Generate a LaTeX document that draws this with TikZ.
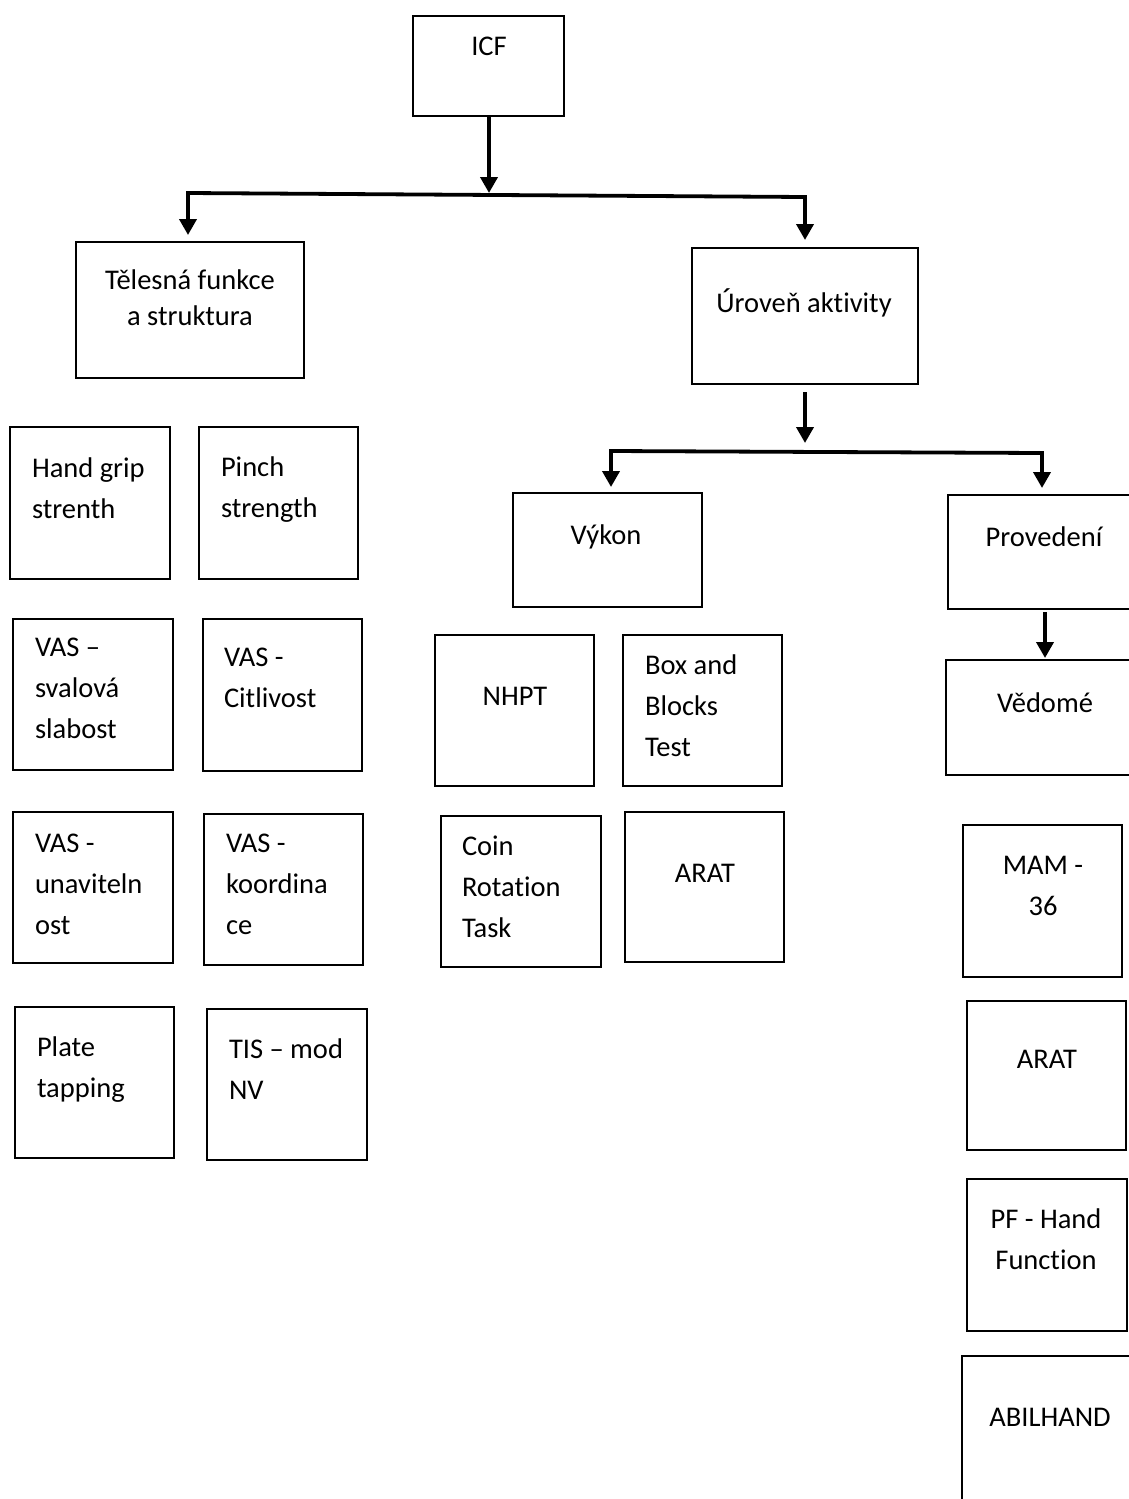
\documentclass[tikz,border=0pt]{standalone}
\usepackage{fontspec}
\setmainfont{Carlito}[Ligatures={NoCommon,NoRequired,NoContextual}]
\usetikzlibrary{arrows.meta}
\newcommand\LT[1]{\vtop{\halign{##\hfil\cr#1\crcr}}}
\newcommand\CT[1]{\vtop{\halign{\hfil##\hfil\cr#1\crcr}}}
\newcommand\bx[5]{\node[box, minimum width={(#4-#2)*1pt}, minimum height={(#5-#3)*1pt}] (#1) at ({(#2+#4)/2},{(#3+#5)/2}) {};}
\tikzset{
  box/.style={draw=black, line width=2pt, inner sep=0pt, outer sep=0pt, fill=white},
  txt/.style={inner sep=0pt, outer sep=0pt, font=\fontsize{28.5}{41}\selectfont},
  txtsingle/.style={txt, font=\fontsize{28.5}{36}\selectfont},
  conn/.style={line width=3.8pt, line join=miter, draw=black},
  tipc/.tip={Triangle[width=17pt,length=16pt]}
}
\begin{document}
\begin{tikzpicture}[x=1pt,y=-1pt]
\fill[white] (0,0) rectangle (1129,1499);
\useasboundingbox (0,0) rectangle (1129,1499);
\clip (0,0) rectangle (1129,1499);
% boxes
\bx{icf}{413}{16}{564}{116}
\bx{tel}{76}{242}{304}{378}
\bx{uro}{692}{248}{918}{384}
\bx{vyk}{513}{493}{702}{607}
\bx{pro}{948}{495}{1140}{609}
\bx{ved}{946}{660}{1144}{775}
\bx{hand}{10}{427}{170}{579}
\bx{pinch}{199}{427}{358}{579}
\bx{vassv}{13}{619}{173}{770}
\bx{vascit}{203}{619}{362}{771}
\bx{vasuna}{13}{812}{173}{963}
\bx{vaskoo}{204}{814}{363}{965}
\bx{plate}{15}{1007}{174}{1158}
\bx{tis}{207}{1009}{367}{1160}
\bx{nhpt}{435}{635}{594}{786}
\bx{bbt}{623}{635}{782}{786}
\bx{coin}{441}{816}{601}{967}
\bx{arata}{625}{812}{784}{962}
\bx{mam}{963}{825}{1122}{977}
\bx{aratb}{967}{1001}{1126}{1150}
\bx{pf}{967}{1179}{1127}{1331}
\bx{abil}{962}{1356}{1138}{1510}
% texts
\node[txt, anchor=base] (t-icf) at (489,55) {ICF};
\node[txtsingle, anchor=base] (t-tel) at (190,289) {\CT{Tělesná funkce\cr a struktura}};
\node[txt, anchor=base] (t-uro) at (804,312) {Úroveň aktivity};
\node[txt, anchor=base] (t-vyk) at (606,544) {Výkon};
\node[txt, anchor=base] (t-pro) at (1044,546) {Provedení};
\node[txt, anchor=base] (t-ved) at (1045,712) {Vědomé};
\node[txt, anchor=base west] (t-hand) at (32,477) {\LT{Hand grip\cr strenth}};
\node[txt, anchor=base west] (t-pinch) at (221,476) {\LT{Pinch\cr strength}};
\node[txt, anchor=base west] (t-vassv) at (35,656) {\LT{VAS –\cr svalová\cr slabost}};
\node[txt, anchor=base west] (t-vascit) at (224,666) {\LT{VAS -\cr Citlivost}};
\node[txt, anchor=base west] (t-vasuna) at (35,852) {\LT{VAS -\cr unaviteln\cr ost}};
\node[txt, anchor=base west] (t-vaskoo) at (226,852) {\LT{VAS -\cr koordina\cr ce}};
\node[txt, anchor=base west] (t-plate) at (37,1056) {\LT{Plate\cr tapping}};
\node[txt, anchor=base west] (t-tis) at (229,1058) {\LT{TIS – mod\cr NV}};
\node[txt, anchor=base] (t-nhpt) at (515,705) {NHPT};
\node[txt, anchor=base west] (t-bbt) at (645,674) {\LT{Box and\cr Blocks\cr Test}};
\node[txt, anchor=base west] (t-coin) at (462,855) {\LT{Coin\cr Rotation\cr Task}};
\node[txt, anchor=base] (t-arata) at (705,882) {ARAT};
\node[txt, anchor=base] (t-mam) at (1043,874) {\CT{MAM -\cr 36}};
\node[txt, anchor=base] (t-aratb) at (1047,1068) {ARAT};
\node[txt, anchor=base] (t-pf) at (1046,1228) {\CT{PF - Hand\cr Function}};
\node[txt, anchor=base] (t-abil) at (1050,1426) {ABILHAND};
% connectors
\coordinate (j0) at (489,193);
\coordinate (jL) at (188,193);
\coordinate (jR) at (805,197);
\draw[conn,-{tipc}] (icf.south -| j0) -- (j0);
\draw[conn,{tipc}-{tipc}, shorten <=7pt, shorten >=8pt] (jL |- tel.north) -- (jL) -- (jR) -- (jR |- uro.north);
\coordinate (k0) at (805,451);
\coordinate (kL) at (611,451);
\coordinate (kR) at (1042,453);
\draw[conn,-{tipc}, shorten <=8pt, shorten >=8pt] (uro.south -| k0) -- (k0);
\draw[conn,{tipc}-{tipc}, shorten <=6pt, shorten >=7pt] (kL |- vyk.north) -- (kL) -- (kR) -- (kR |- pro.north);
\coordinate (m0) at (1045,609);
\draw[conn,-{tipc}, shorten <=3pt, shorten >=2pt] (m0) -- (m0 |- ved.north);
\end{tikzpicture}
\end{document}
